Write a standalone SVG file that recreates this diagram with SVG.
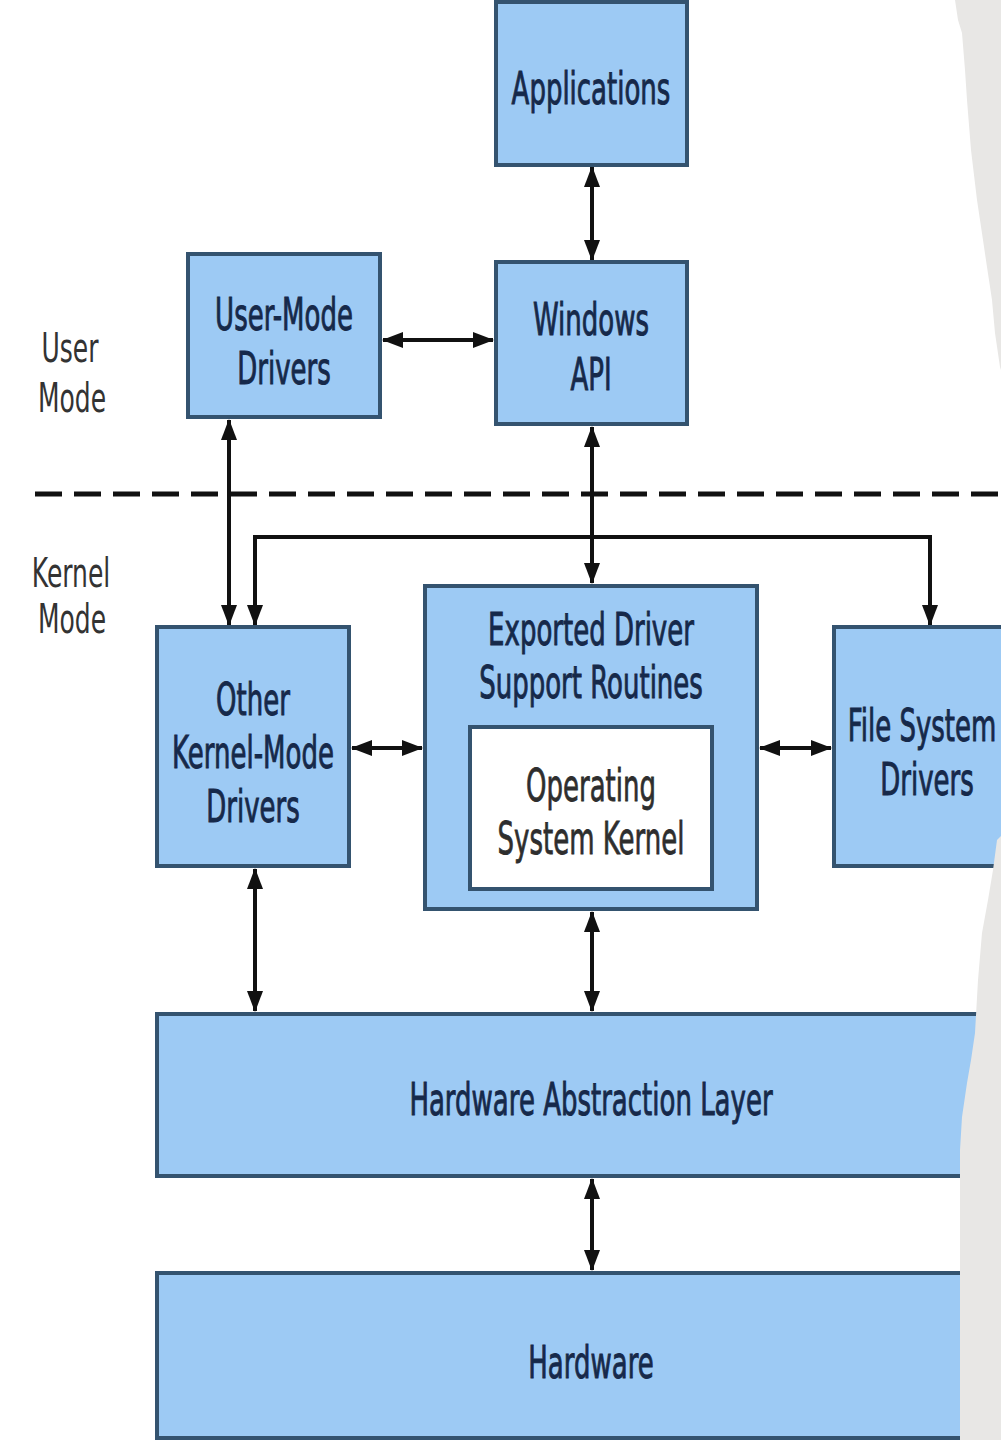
<svg xmlns="http://www.w3.org/2000/svg" width="1001" height="1440" viewBox="0 0 1001 1440">
<style>
.box{fill:#9dcaf4;stroke:#34536f;stroke-width:4}
.inner{fill:#ffffff;stroke:#34536f;stroke-width:4}
.t{font-family:"DejaVu Sans",sans-serif;font-size:26px;fill:#16294a;stroke:#16294a;stroke-width:0.6;text-anchor:middle}
.k{font-family:"DejaVu Sans",sans-serif;font-size:26px;fill:#2e2e2e;stroke:#2e2e2e;stroke-width:0.5;text-anchor:middle}
.lbl{font-family:"DejaVu Sans",sans-serif;font-size:25px;fill:#333333;text-anchor:middle}
.c{fill:none;stroke:#111111;stroke-width:4;marker-start:url(#ah);marker-end:url(#ah)}
</style>
<defs>
<marker id="ah" markerUnits="userSpaceOnUse" markerWidth="22" markerHeight="18" refX="20" refY="9" orient="auto-start-reverse">
<path d="M0,1 L21,9 L0,17 Z" fill="#111111"/>
</marker>
</defs>
<rect x="0" y="0" width="1001" height="1440" fill="#ffffff"/>

<g id="mode-labels">
<text class="lbl" transform="translate(70,362) scale(1,1.65)">User</text>
<text class="lbl" transform="translate(72,412) scale(1,1.65)">Mode</text>
<text class="lbl" transform="translate(71,587) scale(1,1.65)">Kernel</text>
<text class="lbl" transform="translate(72,633) scale(1,1.65)">Mode</text>
<line x1="35" y1="494" x2="1001" y2="494" stroke="#111111" stroke-width="5" stroke-dasharray="27,12"/>
</g>

<g id="connectors">
<path class="c" d="M592,167 V260"/>
<path class="c" d="M383,340 H493"/>
<path class="c" d="M229,420 V625"/>
<path class="c" d="M592,427 V583"/>
<path class="c" d="M255,625 V537 H930 V625"/>
<path class="c" d="M352,748 H422"/>
<path class="c" d="M760,748 H831"/>
<path class="c" d="M255,869 V1011"/>
<path class="c" d="M592,912 V1011"/>
<path class="c" d="M592,1179 V1270"/>
</g>

<g id="applications">
<rect class="box" x="496" y="2" width="191" height="163"/>
<text class="t" transform="translate(591,104) scale(1,1.7)">Applications</text>
</g>

<g id="windows-api">
<rect class="box" x="496" y="262" width="191" height="162"/>
<text class="t" transform="translate(591,335) scale(1,1.7)">Windows</text>
<text class="t" transform="translate(591,390) scale(1,1.7)">API</text>
</g>

<g id="user-mode-drivers">
<rect class="box" x="188" y="254" width="192" height="163"/>
<text class="t" transform="translate(284,330) scale(1,1.7)">User-Mode</text>
<text class="t" transform="translate(284,384) scale(1,1.7)">Drivers</text>
</g>

<g id="other-kernel-mode-drivers">
<rect class="box" x="157" y="627" width="192" height="239"/>
<text class="t" transform="translate(253,715) scale(1,1.7)">Other</text>
<text class="t" transform="translate(253,768) scale(1,1.7)">Kernel-Mode</text>
<text class="t" transform="translate(253,822) scale(1,1.7)">Drivers</text>
</g>

<g id="exported-driver-support-routines">
<rect class="box" x="425" y="586" width="332" height="323"/>
<text class="t" transform="translate(591,645) scale(1,1.7)">Exported Driver</text>
<text class="t" transform="translate(591,698) scale(1,1.7)">Support Routines</text>
</g>

<g id="operating-system-kernel">
<rect class="inner" x="470" y="727" width="242" height="162"/>
<text class="k" transform="translate(591,801) scale(1,1.7)">Operating</text>
<text class="k" transform="translate(591,854) scale(1,1.7)">System Kernel</text>
</g>

<g id="file-system-drivers">
<rect class="box" x="834" y="627" width="200" height="239"/>
<text class="t" transform="translate(922,741) scale(1,1.7)">File System</text>
<text class="t" transform="translate(927,795) scale(1,1.7)">Drivers</text>
</g>

<g id="hardware-abstraction-layer">
<rect class="box" x="157" y="1014" width="880" height="162"/>
<text class="t" transform="translate(591,1115) scale(1,1.7)">Hardware Abstraction Layer</text>
</g>

<g id="hardware">
<rect class="box" x="157" y="1273" width="880" height="165"/>
<text class="t" transform="translate(591,1378) scale(1,1.7)">Hardware</text>
</g>

<path id="torn-edge" d="M955,0 L958,20 L962,33 L965,70 L967,100 L971,150 L977,200 L983,240 L987,267 L992,300 L995,333 L1000,367 L1001,370 L1001,836 L997,840 L993,870 L988,900 L982,933 L978,980 L975,1033 L971,1060 L967,1083 L962,1117 L960,1150 L960,1440 L1001,1440 L1001,0 Z" fill="#e8e7e5"/>
</svg>
